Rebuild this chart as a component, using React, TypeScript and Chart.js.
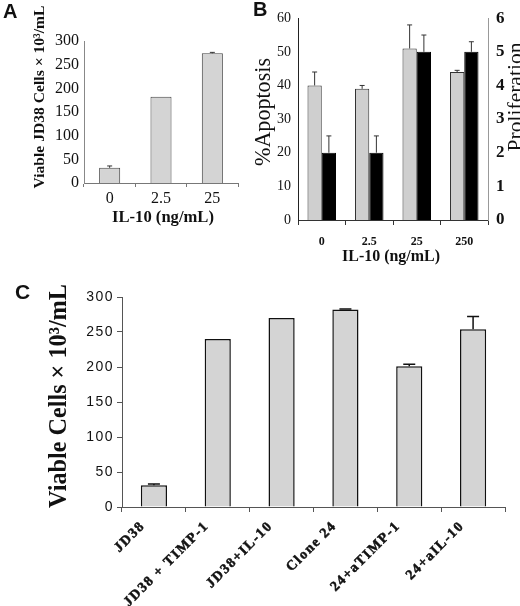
import React, { useEffect, useRef } from "react";
import { Chart, registerables } from "chart.js";
Chart.register(...registerables);

// ---------- data ----------
const aCategories = ["0", "2.5", "25"];
const aValues = [32, 182, 274];
const aErrors: (number | null)[] = [36, null, 276];

const bCategories = ["0", "2.5", "25", "250"];
const bApoptosis = [40, 39, 51, 44];
const bApoptosisErr = [44, 40, 58, 44.5];
const bProliferation = [2.0, 2.0, 5.0, 5.0];
const bProliferationErr = [2.5, 2.5, 5.5, 5.3];

const cCategories = ["JD38", "JD38 + TIMP-1", "JD38+IL-10", "Clone 24", "24+aTIMP-1", "24+aIL-10"];
const cValues = [31, 240, 270, 282, 201, 254];
const cErrors: (number | null)[] = [33, null, null, 283, 204, 272];

const aYTicks = [0, 50, 100, 150, 200, 250, 300];
const bYTicks = [0, 10, 20, 30, 40, 50, 60];
const bY1Ticks = [0, 1, 2, 3, 4, 5, 6];
const cYTicks = [0, 50, 100, 150, 200, 250, 300];

// ---------- styles ----------
const SERIF = "'Liberation Serif', 'Times New Roman', serif";
const SANS = "'Liberation Sans', Arial, sans-serif";
const GRAY = "#d4d4d4";

// ---------- plugins ----------
const errorBarPlugin = {
  id: "errBars",
  afterDatasetsDraw(chart: any, _args: any, opts: any) {
    const ctx = chart.ctx;
    chart.data.datasets.forEach((ds: any, i: number) => {
      const errs = ds.errHigh;
      if (!errs) return;
      const meta = chart.getDatasetMeta(i);
      const scale = chart.scales[meta.yAxisID];
      meta.data.forEach((bar: any, j: number) => {
        const e = errs[j];
        if (e == null) return;
        const yTop = scale.getPixelForValue(e);
        const cap = opts.cap ?? 6;
        ctx.save();
        ctx.strokeStyle = opts.color ?? "#111";
        ctx.lineWidth = opts.width ?? 1;
        ctx.beginPath();
        ctx.moveTo(bar.x, bar.y);
        ctx.lineTo(bar.x, yTop);
        ctx.moveTo(bar.x - cap / 2, yTop);
        ctx.lineTo(bar.x + cap / 2, yTop);
        ctx.stroke();
        ctx.restore();
      });
    });
  },
};

const spacingPlugin = {
  id: "spacing",
  beforeDraw(chart: any, _a: any, opts: any) {
    (chart.ctx as any).letterSpacing = opts.value || "0px";
  },
  afterDraw(chart: any) {
    (chart.ctx as any).letterSpacing = "0px";
  },
};

type TextItem = {
  text: string;
  x: number;
  y: number;
  rot?: number;
  size: number;
  family: string;
  weight?: string;
  len?: number;
  align?: CanvasTextAlign;
  color?: string;
};

const textPlugin = {
  id: "texts",
  afterDraw(chart: any, _a: any, opts: any) {
    const ctx = chart.ctx as CanvasRenderingContext2D;
    (opts.items || []).forEach((t: TextItem) => {
      ctx.save();
      (ctx as any).letterSpacing = "0px";
      const weight = t.weight || "normal";
      let size = t.size;
      ctx.font = `${weight} ${size}px ${t.family}`;
      if (t.len) {
        const w = ctx.measureText(t.text).width;
        size = (size * t.len) / w;
        ctx.font = `${weight} ${size}px ${t.family}`;
      }
      ctx.fillStyle = t.color || "#111";
      ctx.translate(t.x, t.y);
      ctx.rotate(((t.rot || 0) * Math.PI) / 180);
      ctx.textAlign = t.align || "center";
      ctx.textBaseline = "middle";
      ctx.fillText(t.text, 0, 0);
      ctx.restore();
    });
  },
};

const PLUGINS = [errorBarPlugin, spacingPlugin, textPlugin];

function fixedTicks(list: number[]) {
  return (scale: any) => {
    scale.ticks = list.map((v) => ({ value: v }));
  };
}

// ---------- component ----------
export default function App() {
  const refA = useRef<HTMLCanvasElement>(null);
  const refB = useRef<HTMLCanvasElement>(null);
  const refC = useRef<HTMLCanvasElement>(null);

  useEffect(() => {
    const charts: Chart[] = [];

    // Panel A
    charts.push(
      new Chart(refA.current!, {
        type: "bar",
        data: {
          labels: aCategories,
          datasets: [
            {
              data: aValues,
              backgroundColor: GRAY,
              borderColor: "#444",
              borderWidth: 1,
              barPercentage: 0.41,
              categoryPercentage: 1,
              errHigh: aErrors,
            } as any,
          ],
        },
        options: {
          animation: false,
          responsive: false,
          layout: { padding: { top: 41, right: 7, left: 0, bottom: 0 } },
          plugins: {
            legend: { display: false },
            tooltip: { enabled: false },
            errBars: { cap: 5, width: 1, color: "#333" },
            texts: {
              items: [
                { text: "A", x: 3, y: 12, size: 20, family: SANS, weight: "bold", align: "left" },
                { text: "Viable JD38 Cells × 10³/mL", x: 40, y: 97, rot: -90, size: 15, family: SERIF, weight: "bold", len: 183 },
                { text: "IL-10 (ng/mL)", x: 163, y: 218, size: 15, family: SERIF, weight: "bold", len: 102 },
              ],
            },
          } as any,
          scales: {
            x: {
              grid: { display: true, drawOnChartArea: false, offset: true, tickLength: 4, color: "#777" },
              border: { display: true, color: "#777" },
              ticks: { font: { family: SERIF, size: 16 }, color: "#111", padding: 2 },
              afterFit: (s: any) => {
                s.height = 49;
              },
            },
            y: {
              min: 0,
              max: 300,
              afterBuildTicks: fixedTicks(aYTicks),
              ticks: { font: { family: SERIF, size: 16 }, color: "#111", padding: 5 },
              grid: { display: false, drawTicks: false, tickLength: 0 },
              border: { display: true, color: "#888" },
              afterFit: (s: any) => {
                s.width = 84;
              },
            },
          },
        },
        plugins: PLUGINS as any,
      })
    );

    // Panel B
    charts.push(
      new Chart(refB.current!, {
        type: "bar",
        data: {
          labels: bCategories,
          datasets: [
            {
              data: bApoptosis,
              backgroundColor: "#cfcfcf",
              borderColor: "#333",
              borderWidth: 1,
              barPercentage: 1,
              categoryPercentage: 0.6,
              yAxisID: "y",
              errHigh: bApoptosisErr,
            } as any,
            {
              data: bProliferation,
              backgroundColor: "#000",
              borderColor: "#000",
              borderWidth: 1,
              barPercentage: 1,
              categoryPercentage: 0.6,
              yAxisID: "y1",
              errHigh: bProliferationErr,
            } as any,
          ],
        },
        options: {
          animation: false,
          responsive: false,
          layout: { padding: { top: 13, right: 0, left: 0, bottom: 0 } },
          plugins: {
            legend: { display: false },
            tooltip: { enabled: false },
            errBars: { cap: 5, width: 1, color: "#333" },
            texts: {
              items: [
                { text: "B", x: 8, y: 10, size: 20, family: SANS, weight: "bold", align: "left" },
                { text: "%Apoptosis", x: 19, y: 112, rot: -90, size: 20, family: SERIF, len: 108 },
                { text: "Proliferation", x: 271, y: 97, rot: -90, size: 20, family: SERIF, len: 109 },
                { text: "IL-10 (ng/mL)", x: 146, y: 257, size: 16, family: SERIF, weight: "bold", len: 98 },
              ],
            },
          } as any,
          scales: {
            x: {
              grid: { display: true, drawOnChartArea: false, offset: true, tickLength: 5, color: "#333" },
              border: { display: true, color: "#333" },
              ticks: { font: { family: SERIF, size: 12, weight: "bold" }, color: "#111", padding: 10 },
              afterFit: (s: any) => {
                s.height = 52;
              },
            },
            y: {
              position: "left",
              min: 0,
              max: 60,
              afterBuildTicks: fixedTicks(bYTicks),
              ticks: { font: { family: SERIF, size: 14 }, color: "#111", padding: 7 },
              grid: { display: false, drawTicks: false, tickLength: 0 },
              border: { display: true, color: "#222" },
              afterFit: (s: any) => {
                s.width = 53;
              },
            },
            y1: {
              position: "right",
              min: 0,
              max: 6,
              afterBuildTicks: fixedTicks(bY1Ticks),
              ticks: { font: { family: SERIF, size: 17, weight: "bold" }, color: "#111", padding: 8 },
              grid: { display: false, drawTicks: false, tickLength: 0 },
              border: { display: true, color: "#999" },
              afterFit: (s: any) => {
                s.width = 32;
              },
            },
          },
        },
        plugins: PLUGINS as any,
      })
    );

    // Panel C
    charts.push(
      new Chart(refC.current!, {
        type: "bar",
        data: {
          labels: cCategories,
          datasets: [
            {
              data: cValues,
              backgroundColor: GRAY,
              borderColor: "#111",
              borderWidth: 1.5,
              barPercentage: 0.41,
              categoryPercentage: 1,
              errHigh: cErrors,
            } as any,
          ],
        },
        options: {
          animation: false,
          responsive: false,
          layout: { padding: { top: 17, right: 15, left: 0, bottom: 0 } },
          plugins: {
            legend: { display: false },
            tooltip: { enabled: false },
            spacing: { value: "1.5px" },
            errBars: { cap: 12, width: 1.5, color: "#111" },
            texts: {
              items: [
                { text: "C", x: 15, y: 13, size: 21, family: SANS, weight: "bold", align: "left" },
                { text: "Viable Cells × 10³/mL", x: 60, y: 116, rot: -90, size: 24, family: SERIF, weight: "bold", len: 224 },
              ],
            },
          } as any,
          scales: {
            x: {
              grid: { display: true, drawOnChartArea: false, offset: true, tickLength: 5, color: "#555" },
              border: { display: true, color: "#555" },
              ticks: {
                font: { family: SERIF, size: 14, weight: "bold" },
                color: "#111",
                textStrokeColor: "#111",
                textStrokeWidth: 0.5,
                padding: 6,
                minRotation: 45,
                maxRotation: 45,
                autoSkip: false,
                labelOffset: -11,
              } as any,
              afterFit: (s: any) => {
                s.height = 99;
              },
            },
            y: {
              min: 0,
              max: 300,
              afterBuildTicks: fixedTicks(cYTicks),
              ticks: { font: { family: SANS, size: 14 }, color: "#111", padding: 3 },
              grid: { display: true, drawOnChartArea: false, tickLength: 5, color: "#555" },
              border: { display: true, color: "#555" },
              afterFit: (s: any) => {
                s.width = 122;
              },
            },
          },
        },
        plugins: PLUGINS as any,
      })
    );

    return () => charts.forEach((c) => c.destroy());
  }, []);

  return (
    <div style={{ position: "absolute", left: 0, top: 0, width: 520, height: 606, background: "#fff", overflow: "hidden" }}>
      <canvas ref={refA} width={245} height={232} style={{ position: "absolute", left: 0, top: 0, width: 245, height: 232 }} />
      <canvas ref={refB} width={275} height={272} style={{ position: "absolute", left: 245, top: 0, width: 275, height: 272 }} />
      <canvas ref={refC} width={520} height={326} style={{ position: "absolute", left: 0, top: 280, width: 520, height: 326 }} />
    </div>
  );
}
